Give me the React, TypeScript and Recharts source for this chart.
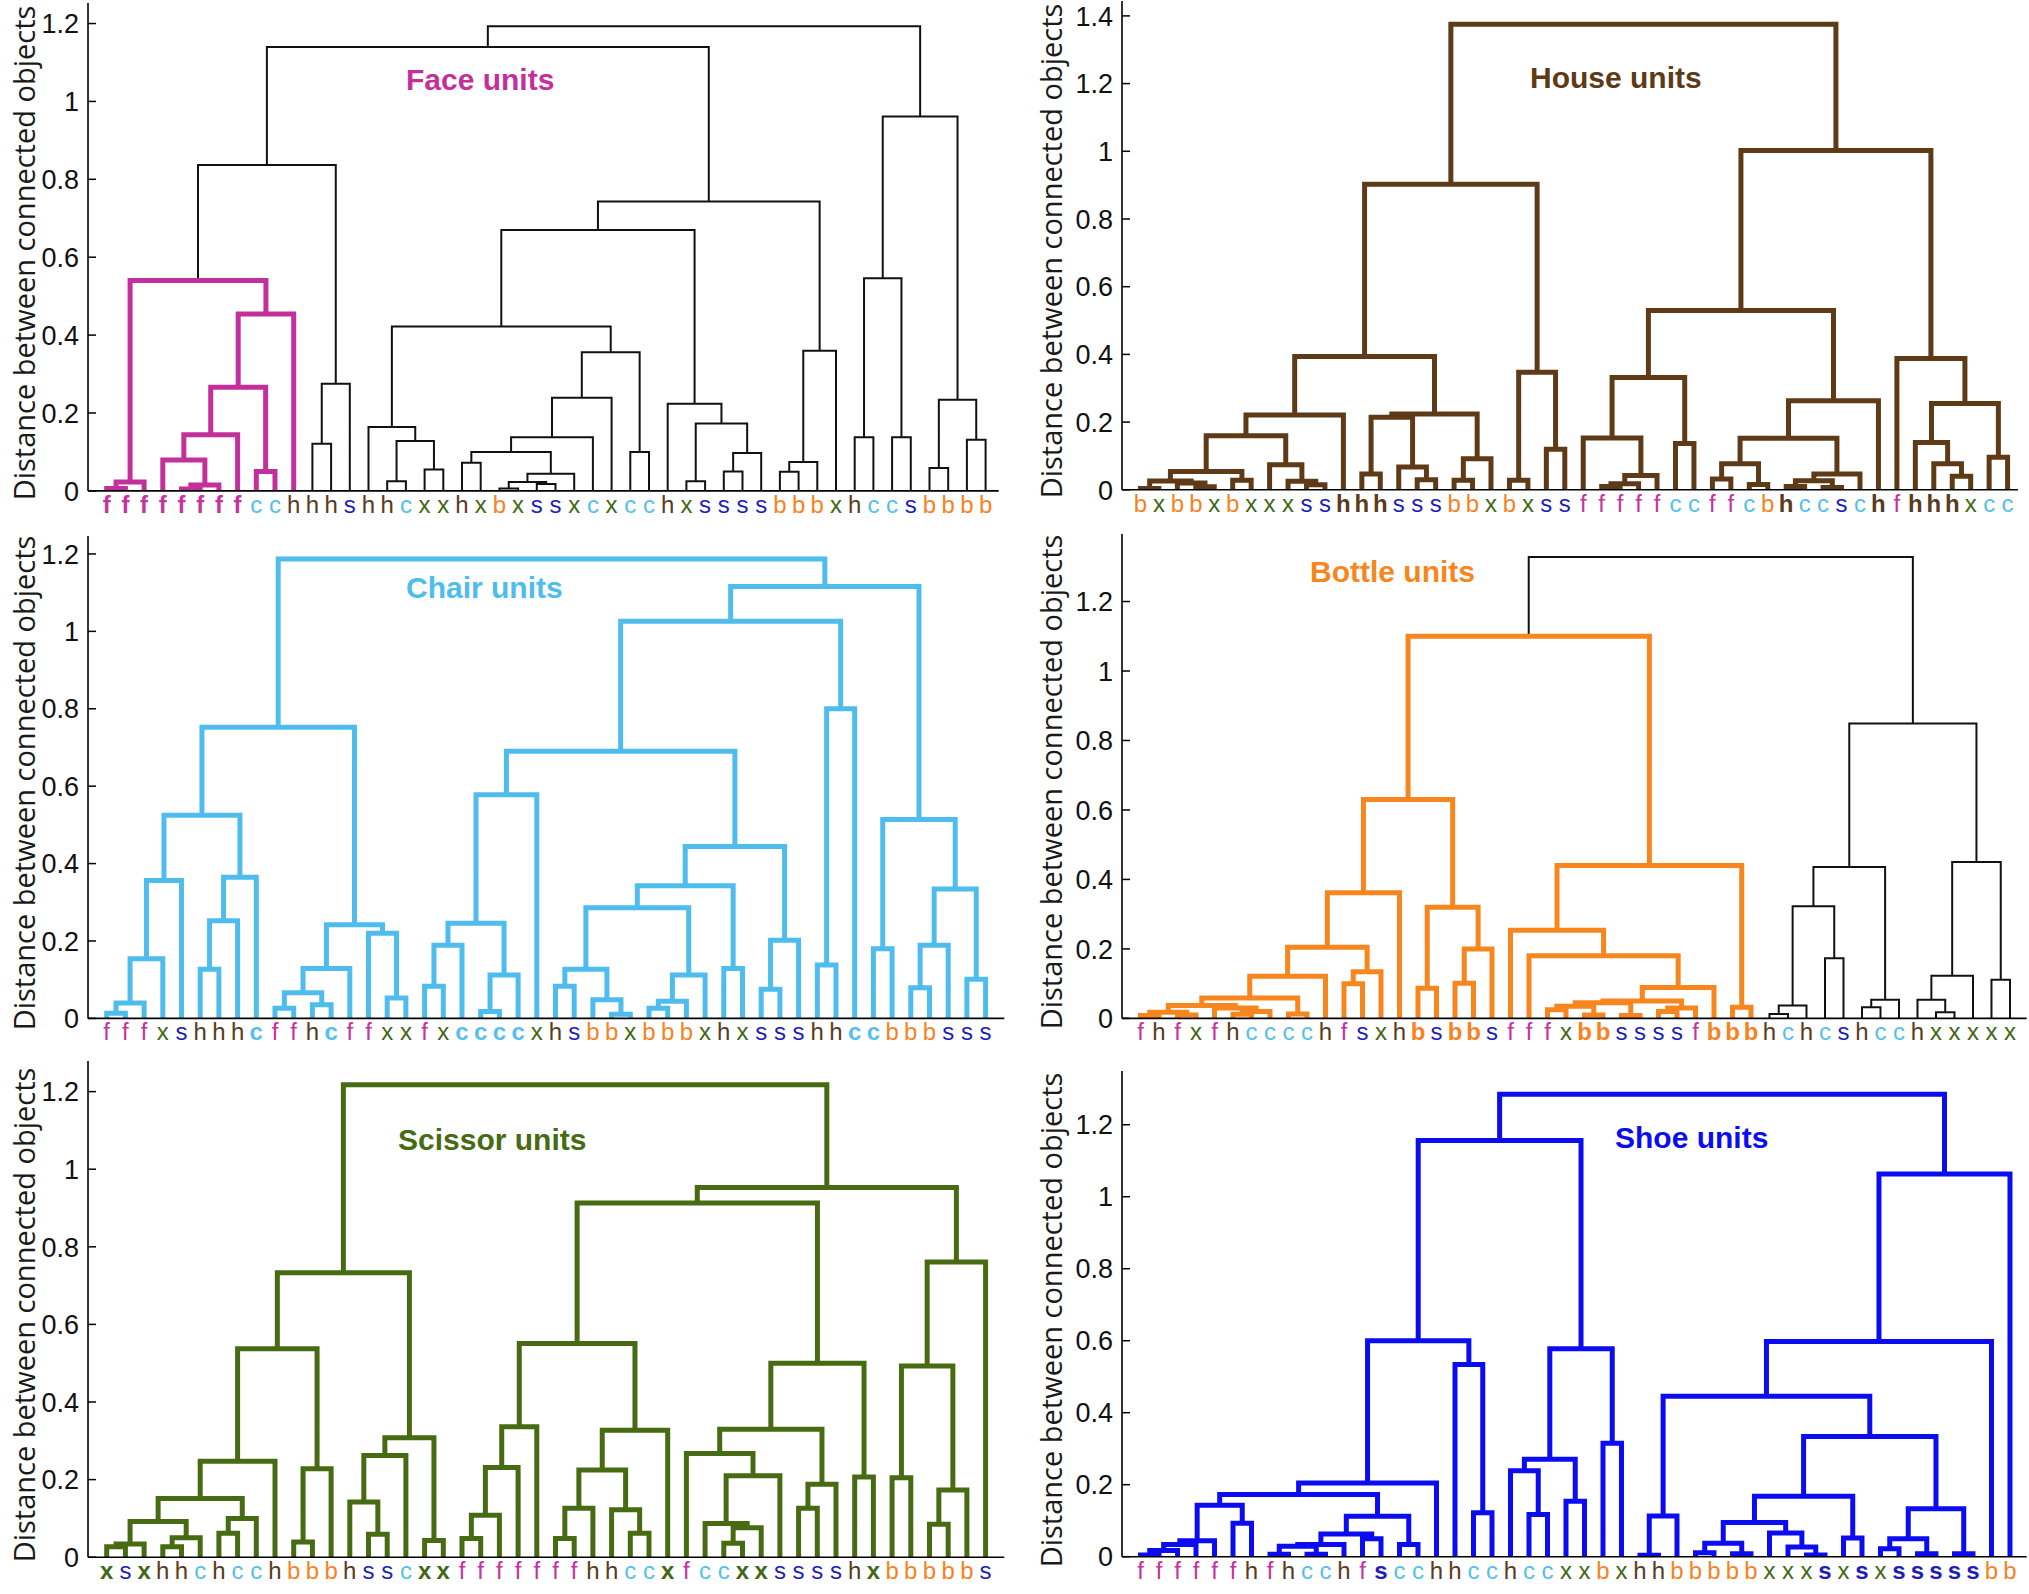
import { LineChart, Line, XAxis, YAxis } from 'recharts'

// colour of each object letter under the leaves
const letterColor: Record<string, string> = {
  f: '#c4349c',
  c: '#56c0ea',
  h: '#5b3b1c',
  s: '#1e1eb6',
  x: '#436716',
  b: '#f5831f',
}

// leaves left to right, and the merge height between each pair of neighbouring leaves
const faceLeaves = 'ffffffffcchhhshhcxxhxbxssxcxcchxssssbbbxhccsbbbb'.split('')
const faceHeights = [
  0.006, 0.023, 0.54, 0.079, 0.005, 0.015, 0.144, 0.266, 0.05, 0.454,
  0.837, 0.121, 0.275, 1.14, 0.164, 0.025, 0.128, 0.055, 0.422, 0.072,
  0.1, 0.006, 0.023, 0.018, 0.044, 0.138, 0.239, 0.356, 0.1, 0.67,
  0.224, 0.025, 0.173, 0.05, 0.097, 0.743, 0.049, 0.074, 0.36, 1.193,
  0.138, 0.546, 0.138, 0.961, 0.059, 0.234, 0.131,
]

const houseLeaves = 'bxbbxbxxxsshhhsssbbxbxssfffffccffcbhccschfhhhxcc'.split('')
const houseHeights = [
  0.004, 0.026, 0.02, 0.009, 0.054, 0.028, 0.16, 0.074, 0.025, 0.015,
  0.221, 0.394, 0.047, 0.214, 0.067, 0.03, 0.224, 0.028, 0.092, 0.903,
  0.028, 0.347, 0.12, 1.375, 0.153, 0.01, 0.018, 0.042, 0.332, 0.137,
  0.53, 0.032, 0.077, 0.016, 0.152, 0.01, 0.027, 0.007, 0.047, 0.263,
  1.002, 0.388, 0.14, 0.077, 0.04, 0.255, 0.096,
]

const chairLeaves = 'fffxshhhcffhcffxxfxccccxhsbbxbbbxhxssshhccbbbsss'.split('')
const chairHeights = [
  0.013, 0.04, 0.154, 0.356, 0.525, 0.127, 0.252, 0.365, 0.752, 0.026,
  0.066, 0.035, 0.129, 0.242, 0.22, 0.053, 1.187, 0.083, 0.189, 0.246,
  0.018, 0.112, 0.578, 0.69, 0.083, 0.127, 0.048, 0.011, 0.286, 0.026,
  0.044, 0.112, 0.343, 0.129, 0.444, 0.075, 0.202, 1.026, 0.138, 0.8,
  1.116, 0.18, 0.514, 0.079, 0.189, 0.334, 0.101,
]

const bottleLeaves = 'fhfxfhcccchfsxhbsbbsfffxbbssssfbbbhchcshcchxxxxx'.split('')
const bottleHeights = [
  0.008, 0.018, 0.01, 0.037, 0.03, 0.012, 0.02, 0.059, 0.013, 0.121,
  0.205, 0.1, 0.134, 0.362, 0.63, 0.087, 0.32, 0.101, 0.2, 1.1,
  0.254, 0.18, 0.025, 0.035, 0.01, 0.045, 0.008, 0.05, 0.02, 0.03,
  0.089, 0.44, 0.032, 1.328, 0.013, 0.037, 0.323, 0.173, 0.436, 0.032,
  0.054, 0.849, 0.054, 0.018, 0.123, 0.45, 0.111,
]

const scissorLeaves = 'xsxhhchcchbbbhsscxxfffffffhhccxfccxxsssshxbbbbbs'.split('')
const scissorHeights = [
  0.027, 0.034, 0.092, 0.027, 0.05, 0.151, 0.062, 0.1, 0.247, 0.537,
  0.039, 0.228, 0.733, 0.142, 0.059, 0.262, 0.308, 0.043, 1.218, 0.048,
  0.108, 0.231, 0.336, 0.551, 0.048, 0.126, 0.225, 0.122, 0.062, 0.327,
  0.913, 0.267, 0.087, 0.036, 0.076, 0.21, 0.33, 0.126, 0.188, 0.5,
  0.207, 0.953, 0.205, 0.493, 0.085, 0.173, 0.761,
]

const shoeLeaves = 'ffffffhfhcchfscchhcchccxxbxhhbbbbbxxxsxsxsssssbb'.split('')
const shoeHeights = [
  0.005, 0.017, 0.034, 0.044, 0.143, 0.093, 0.173, 0.007, 0.029, 0.007,
  0.034, 0.063, 0.05, 0.112, 0.034, 0.205, 0.6, 0.534, 0.122, 1.156,
  0.239, 0.117, 0.271, 0.154, 0.578, 0.315, 1.285, 0.004, 0.113, 0.446,
  0.011, 0.037, 0.008, 0.095, 0.066, 0.027, 0.005, 0.168, 0.052, 0.334,
  0.022, 0.05, 0.008, 0.133, 0.008, 0.598, 1.063,
]

const ticksTo12 = [0, 0.2, 0.4, 0.6, 0.8, 1, 1.2]
const ticksTo14 = [0, 0.2, 0.4, 0.6, 0.8, 1, 1.2, 1.4]

type Panel = {
  title: string
  color: string
  leaves: string[]
  heights: number[]
  bold: string
  clusterSize: number
  left: number
  top: number
  plotH: number
  spacing: number
  xMax: number
  yMax: number
  yTicks: number[]
  titleX: number
  titleY: number
  axisTitleX: number
}

const panels: Panel[] = [
  { title: 'Face units', color: '#c4309b', leaves: faceLeaves, heights: faceHeights, bold: 'f', clusterSize: 11,
    left: 88, top: 2.6, plotH: 487.9, spacing: 18.7, xMax: 48.7, yMax: 1.2527, yTicks: ticksTo12,
    titleX: 406, titleY: 80, axisTitleX: 23 },
  { title: 'House units', color: '#5e3a16', leaves: houseLeaves, heights: houseHeights, bold: 'h', clusterSize: 48,
    left: 1122, top: 0.5, plotH: 488.8, spacing: 18.45, xMax: 48.56, yMax: 1.444, yTicks: ticksTo14,
    titleX: 1530, titleY: 78, axisTitleX: 1050 },
  { title: 'Chair units', color: '#4ebdee', leaves: chairLeaves, heights: chairHeights, bold: 'c', clusterSize: 48,
    left: 88, top: 536, plotH: 482.4, spacing: 18.7, xMax: 49, yMax: 1.2464, yTicks: ticksTo12,
    titleX: 406, titleY: 588, axisTitleX: 23 },
  { title: 'Bottle units', color: '#f7861e', leaves: bottleLeaves, heights: bottleHeights, bold: 'b', clusterSize: 34,
    left: 1122, top: 534, plotH: 484.4, spacing: 18.5, xMax: 48.9, yMax: 1.3944, yTicks: ticksTo12,
    titleX: 1310, titleY: 572, axisTitleX: 1050 },
  { title: 'Scissor units', color: '#466b12', leaves: scissorLeaves, heights: scissorHeights, bold: 'x', clusterSize: 48,
    left: 88, top: 1060.5, plotH: 496.2, spacing: 18.7, xMax: 49, yMax: 1.2789, yTicks: ticksTo12,
    titleX: 398, titleY: 1140, axisTitleX: 23 },
  { title: 'Shoe units', color: '#0c0cf0', leaves: shoeLeaves, heights: shoeHeights, bold: 's', clusterSize: 48,
    left: 1122, top: 1071, plotH: 485.7, spacing: 18.5, xMax: 48.9, yMax: 1.3493, yTicks: ticksTo12,
    titleX: 1615, titleY: 1138, axisTitleX: 1050 },
]

const YW = 80
const MT = 10
const MR = 6
const XH = 38

type Pt = { x: number; y: number | null }

// merge neighbouring clusters in order of height, like a linkage with fixed leaf order
function buildLinks(n: number, heights: number[], clusterSize: number) {
  type Node = { lo: number; hi: number; x: number; h: number }
  const owner: Node[] = []
  for (let i = 0; i < n; i++) owner.push({ lo: i, hi: i, x: i + 1, h: 0 })
  const order = heights.map((_, i) => i).sort((a, b) => heights[a] - heights[b])
  const colored: Pt[] = []
  const plain: Pt[] = []
  for (const i of order) {
    const L = owner[i]
    const R = owner[i + 1]
    const h = heights[i]
    const node = { lo: L.lo, hi: R.hi, x: (L.x + R.x) / 2, h }
    const target = node.hi < clusterSize ? colored : plain
    target.push({ x: L.x, y: L.h }, { x: L.x, y: h }, { x: R.x, y: h }, { x: R.x, y: R.h }, { x: R.x, y: null })
    for (let k = node.lo; k <= node.hi; k++) owner[k] = node
  }
  return { colored, plain }
}

function Dendrogram({ p }: { p: Panel }) {
  const { colored, plain } = buildLinks(p.leaves.length, p.heights, p.clusterSize)
  const plotW = p.xMax * p.spacing
  const leafTicks = p.leaves.map((_, i) => i + 1)

  const leafTick = (t: any) => {
    const ch = p.leaves[t.payload.value - 1]
    return (
      <text x={t.x} y={t.y + 22} textAnchor="middle" fontFamily="'Liberation Sans', Arial, sans-serif"
        fontSize={24} fontWeight={ch === p.bold ? 700 : 400} fill={letterColor[ch]}>
        {ch}
      </text>
    )
  }

  const valueTick = (t: any) => (
    <g>
      <line x1={t.x + 9} x2={t.x + 17} y1={t.y} y2={t.y} stroke="#000" strokeWidth={1.5} />
      <text x={t.x} y={t.y} dy="0.36em" textAnchor="end" fontFamily="'Liberation Sans', Arial, sans-serif"
        fontSize={27} fill="#111">
        {String(t.payload.value)}
      </text>
    </g>
  )

  return (
    <>
      <div style={{ position: 'absolute', left: p.left - YW, top: p.top - MT }}>
        <LineChart width={YW + plotW + MR} height={MT + p.plotH + XH} margin={{ top: MT, right: MR, left: 0, bottom: 0 }}>
          <XAxis type="number" dataKey="x" domain={[0, p.xMax]} ticks={leafTicks} interval={0}
            tickSize={0} tickMargin={0} tickLine={false} height={XH} allowDataOverflow
            axisLine={{ stroke: '#000', strokeWidth: 1.6 }} tick={leafTick} />
          <YAxis type="number" domain={[0, p.yMax]} ticks={p.yTicks} interval={0} width={YW}
            tickSize={0} tickMargin={9} tickLine={false} allowDataOverflow
            axisLine={{ stroke: '#000', strokeWidth: 1.6 }} tick={valueTick} />
          <Line data={plain} dataKey="y" type="linear" stroke="#111" strokeWidth={2}
            dot={false} activeDot={false} connectNulls={false} isAnimationActive={false} />
          <Line data={colored} dataKey="y" type="linear" stroke={p.color} strokeWidth={5}
            dot={false} activeDot={false} connectNulls={false} isAnimationActive={false} />
        </LineChart>
      </div>
      <div style={{
        position: 'absolute', left: p.titleX, top: p.titleY, transform: 'translateY(-50%)',
        fontFamily: "'Liberation Sans', Arial, sans-serif", fontWeight: 700, fontSize: 30,
        lineHeight: 1, color: p.color, whiteSpace: 'nowrap',
      }}>
        {p.title}
      </div>
      <div style={{
        position: 'absolute', left: p.axisTitleX, top: p.top + p.plotH / 2 + 6,
        transform: 'translate(-50%, -50%) rotate(-90deg)', fontFamily: "'Open Sans', sans-serif",
        fontSize: 29, lineHeight: 1, color: '#1a1a1a', whiteSpace: 'nowrap',
      }}>
        Distance between connected objects
      </div>
    </>
  )
}

export default function App() {
  return (
    <div style={{ position: 'absolute', left: 0, top: 0, width: 2029, height: 1594, background: '#fff', overflow: 'hidden' }}>
      {panels.map((p) => (
        <Dendrogram key={p.title} p={p} />
      ))}
    </div>
  )
}
